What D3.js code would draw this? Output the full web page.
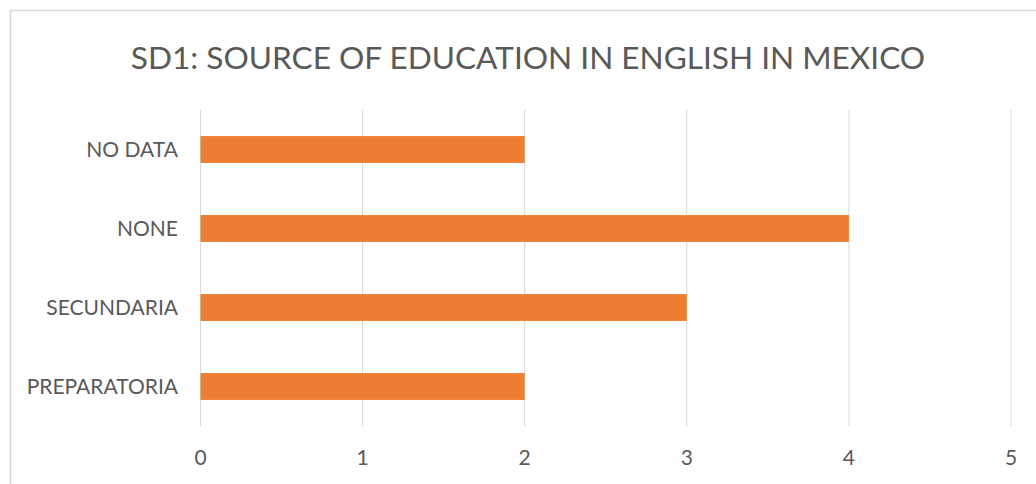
<!DOCTYPE html>
<html>
<head>
<meta charset="utf-8">
<script src="https://cdn.jsdelivr.net/npm/d3@7"></script>
<style>
  body { margin: 0; background: #fff; }
  text { font-family: Lato, "Open Sans", sans-serif; fill: #595959; }
</style>
</head>
<body>
<script>
// data
let categories = ['NO DATA', 'NONE', 'SECUNDARIA', 'PREPARATORIA'];
let values = [2, 4, 3, 2];
let xTicks = [0, 1, 2, 3, 4, 5];
let title = 'SD1: SOURCE OF EDUCATION IN ENGLISH IN MEXICO';

let width = 1036;
let height = 484;

let svg = d3.select('body').append('svg')
  .attr('width', width)
  .attr('height', height);

// chart border (runs off the right and bottom edges)
svg.append('rect')
  .attr('x', 10.5).attr('y', 10.5)
  .attr('width', 1040).attr('height', 490)
  .attr('fill', '#fff')
  .attr('stroke', '#d9d9d9')
  .attr('stroke-width', 1.5);

svg.append('text')
  .attr('x', 528).attr('y', 69)
  .attr('text-anchor', 'middle')
  .style('font-size', '31.6px')
  .text(title);

let plot = {left: 200.5, right: 1011, top: 110, bottom: 426};

let x = d3.scaleLinear()
  .domain([0, 5])
  .range([plot.left, plot.right]);

let y = d3.scaleBand()
  .domain(categories)
  .range([plot.top, plot.bottom])
  .paddingInner(0.66)
  .paddingOuter(0.33);

// vertical gridlines
svg.append('g')
  .selectAll('line')
  .data(xTicks)
  .enter().append('line')
  .attr('x1', d => x(d)).attr('x2', d => x(d))
  .attr('y1', plot.top).attr('y2', plot.bottom)
  .attr('stroke', '#d9d9d9')
  .attr('stroke-width', 1);

// bars
svg.append('g')
  .selectAll('rect')
  .data(values)
  .enter().append('rect')
  .attr('x', x(0))
  .attr('y', (d, i) => y(categories[i]))
  .attr('width', d => x(d) - x(0))
  .attr('height', y.bandwidth())
  .attr('fill', '#ed7d31');

// category labels
svg.append('g')
  .selectAll('text')
  .data(categories)
  .enter().append('text')
  .attr('x', 178)
  .attr('y', d => y(d) + y.bandwidth() / 2)
  .attr('dy', '0.35em')
  .attr('text-anchor', 'end')
  .style('font-size', '21px')
  .text(d => d);

// x tick labels
svg.append('g')
  .selectAll('text')
  .data(xTicks)
  .enter().append('text')
  .attr('x', d => x(d))
  .attr('y', 458)
  .attr('dy', '0.35em')
  .attr('text-anchor', 'middle')
  .style('font-size', '21px')
  .text(d => d);
</script>
</body>
</html>
